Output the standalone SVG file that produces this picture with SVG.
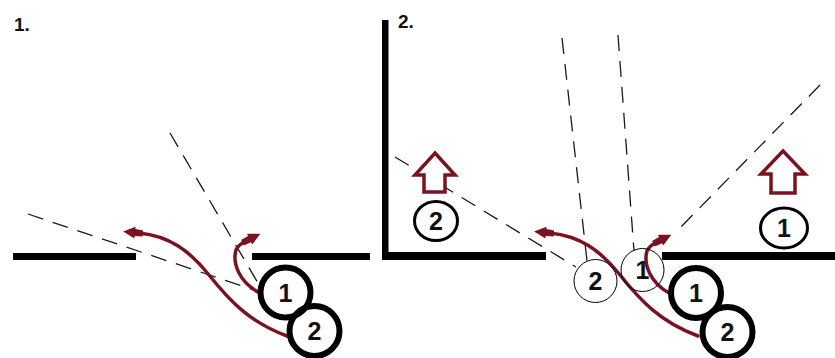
<svg xmlns="http://www.w3.org/2000/svg" width="835" height="358" viewBox="0 0 835 358">
  <style>
    .wall { fill: #000; }
    .dash { fill: none; stroke: #1a1a1a; stroke-width: 1.3; stroke-dasharray: 16 10; }
    .path { fill: none; stroke: #7a1222; stroke-width: 3.5; stroke-linecap: round; marker-end: url(#head); }
    .thick { fill: none; stroke: #000; stroke-width: 6; }
    .mid { fill: none; stroke: #000; stroke-width: 3; }
    .thin { fill: none; stroke: #000; stroke-width: 1; }
    .num { font-family: "Liberation Sans", Arial, sans-serif; font-weight: bold; font-size: 25px; fill: #111; text-anchor: middle; }
    .title { font-family: "Liberation Sans", Arial, sans-serif; font-weight: bold; font-size: 19px; fill: #111; }
    .up { fill: #fff; stroke: #7a1222; stroke-width: 3.5; stroke-linejoin: miter; }
  </style>
  <defs>
    <marker id="head" viewBox="0 0 20 12" markerWidth="20" markerHeight="12" refX="4" refY="6" orient="auto" markerUnits="userSpaceOnUse">
      <path d="M0,3 L8,2.5 L8,0 L20,6 L8,12 L8,9.5 L0,9 Z" fill="#7a1222"/>
    </marker>
  </defs>
  <rect width="835" height="358" fill="#fff"/>

  <g id="panel1">
    <text class="title" x="14" y="31">1.</text>
    <g id="p1-walls">
      <rect class="wall" x="13" y="253" width="123" height="7"/>
      <rect class="wall" x="252" y="253" width="118" height="7"/>
    </g>
  </g>

  <g id="panel2">
    <text class="title" x="398" y="28">2.</text>
    <g id="p2-walls">
      <rect class="wall" x="382" y="20" width="6.5" height="240"/>
      <rect class="wall" x="382" y="252" width="164" height="8"/>
      <rect class="wall" x="662" y="252" width="173" height="8"/>
    </g>
  </g>

  <g id="connectors">
    <line class="dash" x1="28" y1="214" x2="257" y2="291"/>
    <line class="dash" x1="170" y1="133" x2="258" y2="283"/>
    <line class="dash" x1="395" y1="157" x2="576" y2="267"/>
    <line class="dash" x1="562" y1="38" x2="587" y2="261"/>
    <line class="dash" x1="618" y1="35" x2="634" y2="251"/>
    <line class="dash" x1="820" y1="85" x2="676" y2="232"/>
    <path class="path" d="M287,336 C249,322 229,300 209,275 C189,250 169,236 139,233"/>
    <path class="path" d="M258,292 C240,282 232,264 236,250 C238,245 242,243 246,241"/>
    <path class="path" d="M698,336 C660,322 640,300 620,275 C600,250 580,236 550,233"/>
    <path class="path" d="M669,293 C651,283 643,265 647,251 C649,246 653,244 657,242"/>
  </g>

  <g id="p1-c1"><circle class="thick" cx="285.5" cy="292.5" r="25"/><text class="num" x="285.5" y="301.5">1</text></g>
  <g id="p1-c2"><circle class="thick" cx="314.5" cy="331" r="25"/><text class="num" x="314.5" y="340">2</text></g>

  <g id="p2-ghost2"><circle class="thin" cx="595.5" cy="281" r="21.5"/><text class="num" x="595.5" y="290">2</text></g>
  <g id="p2-ghost1"><circle class="thin" cx="642.5" cy="270" r="21.5"/><text class="num" x="642.5" y="279">1</text></g>
  <g id="p2-c1"><circle class="thick" cx="696" cy="293" r="25"/><text class="num" x="696" y="302">1</text></g>
  <g id="p2-c2"><circle class="thick" cx="727.5" cy="332" r="25"/><text class="num" x="727.5" y="341">2</text></g>

  <g id="p2-label2">
    <polygon class="up" points="435,153 455,175 445,175 445,192 424,192 424,175 415,175"/>
    <ellipse class="mid" cx="436" cy="221" rx="21.5" ry="19.5"/>
    <text class="num" x="436" y="230">2</text>
  </g>
  <g id="p2-label1">
    <polygon class="up" points="783,151 805,174 795,174 795,193 771,193 771,174 761,174"/>
    <ellipse class="mid" cx="784" cy="228" rx="23.5" ry="20"/>
    <text class="num" x="784" y="237">1</text>
  </g>
</svg>
